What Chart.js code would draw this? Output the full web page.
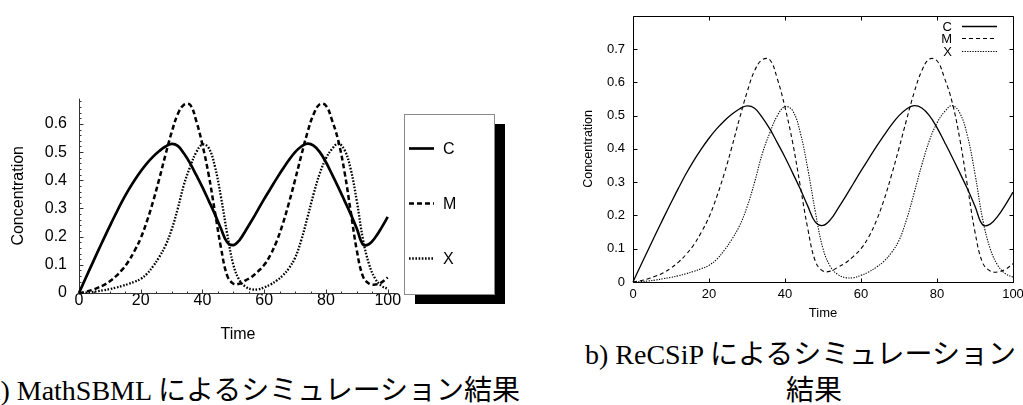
<!DOCTYPE html>
<html>
<head>
<meta charset="utf-8">
<script src="https://cdn.jsdelivr.net/npm/chart.js@4.4.1/dist/chart.umd.min.js"></script>
<style>
  html, body { margin: 0; padding: 0; background: #fff; width: 1023px; height: 405px; overflow: hidden; position: relative; }
  canvas { position: absolute; display: block; }
  #leftChart { left: 0; top: 77px; }
  #rightChart { left: 570px; top: 0; }
  .cap { position: absolute; font-family: "Liberation Serif", "Times New Roman", serif; font-size: 28px; line-height: 28px; color: #000; white-space: nowrap; }
  .cap .jp { font-family: "Noto Sans CJK JP", sans-serif; }
</style>
</head>
<body>
<canvas id="leftChart" width="520" height="273"></canvas>
<canvas id="rightChart" width="480" height="322"></canvas>
<div class="cap" style="left:-12px; top:374px;">a) MathSBML <span class="jp">によるシミュレーション結果</span></div>
<div class="cap" style="left:585px; top:338px;">b) ReCSiP <span class="jp">によるシミュレーション</span></div>
<div class="cap" style="left:786px; top:374px;"><span class="jp">結果</span></div>
<script>
// Simulated time course of the mitotic oscillator (cyclin C, cdc2 kinase M, protease X)
const times = [0, 2, 4, 6, 8, 10, 12, 14, 16, 18, 20, 22, 24, 26, 28, 30, 32, 34, 36, 38, 40,
  42, 44, 46, 48, 50, 52, 54, 56, 58, 60, 62, 64, 66, 68, 70, 72, 74, 76, 78, 80,
  82, 84, 86, 88, 90, 92, 94, 96, 98, 100];
const seriesC = [0.000, 0.049, 0.097, 0.145, 0.192, 0.238, 0.283, 0.326, 0.365, 0.400, 0.432,
  0.460, 0.484, 0.504, 0.520, 0.529, 0.522, 0.495, 0.460, 0.418, 0.375,
  0.328, 0.280, 0.228, 0.180, 0.170, 0.188, 0.222, 0.258, 0.296, 0.334,
  0.370, 0.406, 0.440, 0.472, 0.500, 0.520, 0.530, 0.523, 0.500, 0.464,
  0.420, 0.375, 0.328, 0.280, 0.228, 0.172, 0.174, 0.198, 0.232, 0.270];
const seriesM = [0.000, 0.004, 0.010, 0.018, 0.028, 0.042, 0.060, 0.083, 0.112, 0.150, 0.195,
  0.255, 0.325, 0.405, 0.490, 0.570, 0.635, 0.668, 0.668, 0.610, 0.525,
  0.420, 0.290, 0.160, 0.062, 0.033, 0.033, 0.045, 0.058, 0.077, 0.100,
  0.135, 0.183, 0.245, 0.320, 0.402, 0.488, 0.570, 0.635, 0.670, 0.665,
  0.612, 0.540, 0.430, 0.290, 0.150, 0.058, 0.033, 0.030, 0.038, 0.055];
const seriesX = [0.000, 0.001, 0.003, 0.006, 0.010, 0.014, 0.019, 0.025, 0.032, 0.040, 0.050,
  0.068, 0.095, 0.128, 0.168, 0.225, 0.300, 0.385, 0.448, 0.500, 0.527,
  0.515, 0.450, 0.340, 0.210, 0.100, 0.045, 0.022, 0.013, 0.013, 0.020,
  0.030, 0.044, 0.062, 0.088, 0.125, 0.188, 0.268, 0.352, 0.425, 0.478,
  0.512, 0.530, 0.508, 0.440, 0.325, 0.190, 0.100, 0.050, 0.025, 0.015];
const seriesNames = ['C', 'M', 'X'];
const xTickValues = [0, 20, 40, 60, 80, 100];
const yTickValuesA = [0, 0.1, 0.2, 0.3, 0.4, 0.5, 0.6];
const yTickValuesB = [0, 0.1, 0.2, 0.3, 0.4, 0.5, 0.6, 0.7];

const SANS = '"Liberation Sans", Arial, Helvetica, sans-serif';
const pts = arr => arr.map((v, i) => ({ x: times[i], y: v }));
const fmt = v => (v === 0 ? '0' : Number(v).toFixed(1));

function makeDatasets(widths, dashes) {
  return [seriesC, seriesM, seriesX].map((s, i) => ({
    label: seriesNames[i],
    data: pts(s),
    borderColor: '#000',
    borderWidth: widths[i],
    borderDash: dashes[i],
    pointRadius: 0,
    tension: 0.4,
    fill: false,
    clip: 6
  }));
}

// ---------- a) Mathematica-style axes ----------
const mathAxes = {
  id: 'mathAxes',
  beforeDatasetsDraw(chart) {
    const { ctx, chartArea: a, scales: { x, y } } = chart;
    const x0 = Math.round(x.getPixelForValue(0)) + 0.5;
    const y0 = Math.round(y.getPixelForValue(0)) + 0.5;
    ctx.save();
    ctx.strokeStyle = '#333';
    ctx.lineWidth = 1;
    ctx.beginPath();
    ctx.moveTo(x0, a.top); ctx.lineTo(x0, y0);
    ctx.moveTo(x0, y0); ctx.lineTo(a.right, y0);
    // x ticks: major every 20, minor every 5
    for (let k = 0; k * 5 <= x.max; k++) {
      const px = Math.round(x.getPixelForValue(k * 5)) + 0.5;
      const len = k % 4 === 0 ? 4 : 2;
      ctx.moveTo(px, y0); ctx.lineTo(px, y0 - len);
    }
    // y ticks: major every 0.1, minor every 0.02
    for (let k = 0; k * 0.02 <= y.max + 1e-9; k++) {
      const py = Math.round(y.getPixelForValue(k * 0.02)) + 0.5;
      const len = k % 5 === 0 ? 4 : 2;
      ctx.moveTo(x0, py); ctx.lineTo(x0 + len, py);
    }
    ctx.stroke();
    ctx.restore();
  }
};

// Boxed legend with a drop shadow, to the right of plot a)
const boxLegend = {
  id: 'boxLegend',
  afterDraw(chart) {
    const { ctx } = chart;
    const bx = 404, by = 37, bw = 90, bh = 180;
    ctx.save();
    ctx.fillStyle = '#000';
    ctx.fillRect(bx + 11, by + 10, bw, bh);
    ctx.fillStyle = '#fff';
    ctx.fillRect(bx, by, bw, bh);
    ctx.strokeStyle = '#8a8a8a';
    ctx.lineWidth = 1;
    ctx.strokeRect(bx + 0.5, by + 0.5, bw, bh);
    const rows = [71, 126, 181];
    chart.data.datasets.forEach((ds, i) => {
      const yy = rows[i] + 0.5;
      ctx.strokeStyle = '#000';
      ctx.lineWidth = ds.borderWidth;
      ctx.setLineDash(ds.borderDash || []);
      ctx.beginPath();
      ctx.moveTo(bx + 5, yy); ctx.lineTo(bx + 30, yy);
      ctx.stroke();
      ctx.setLineDash([]);
      ctx.fillStyle = '#000';
      ctx.font = '16px ' + SANS;
      ctx.textBaseline = 'middle';
      ctx.textAlign = 'left';
      ctx.fillText(ds.label, bx + 39, yy + 1);
    });
    ctx.restore();
  }
};

new Chart(document.getElementById('leftChart'), {
  type: 'line',
  data: { datasets: makeDatasets([2.7, 2.5, 2.3], [[], [5, 3], [1.6, 1.6]]) },
  options: {
    responsive: false,
    animation: false,
    devicePixelRatio: 1,
    layout: { padding: { left: 0, top: 20, right: 123, bottom: 0 } },
    plugins: { legend: { display: false }, tooltip: { enabled: false } },
    scales: {
      x: {
        type: 'linear', min: 0, max: 103,
        border: { display: false },
        grid: { display: false, drawTicks: false },
        ticks: { stepSize: 20, includeBounds: false, padding: -2, color: '#000', maxRotation: 0, autoSkip: false,
                 font: { family: SANS, size: 16 },
                 callback: v => (xTickValues.includes(v) ? String(v) : '') },
        title: { display: true, text: 'Time', color: '#000', font: { family: SANS, size: 16 }, padding: { top: 0, bottom: 6 } },
        afterFit(s) { s.height = 57; }
      },
      y: {
        type: 'linear', min: 0, max: 0.69,
        border: { display: false },
        grid: { display: false, drawTicks: false },
        ticks: { stepSize: 0.1, includeBounds: false, padding: 12, color: '#000', autoSkip: false,
                 font: { family: SANS, size: 16 },
                 callback: v => (yTickValuesA.some(t => Math.abs(t - v) < 1e-9) ? fmt(v) : '') },
        title: { display: true, text: 'Concentration', color: '#000', font: { family: SANS, size: 16 }, padding: { top: 9, bottom: 0 } },
        afterFit(s) { s.width = 79; }
      }
    }
  },
  plugins: [mathAxes, boxLegend]
});

// ---------- b) gnuplot-style framed plot ----------
const frameTicks = {
  id: 'frameTicks',
  beforeDatasetsDraw(chart) {
    const { ctx, chartArea: a, scales: { x, y } } = chart;
    const L = Math.round(a.left) + 0.5, R = Math.round(a.right) + 0.5;
    const T = Math.round(a.top) + 0.5, B = Math.round(a.bottom) + 0.5;
    ctx.save();
    ctx.strokeStyle = '#000';
    ctx.lineWidth = 1;
    ctx.beginPath();
    ctx.rect(L, T, R - L, B - T);
    xTickValues.forEach(v => {
      const px = Math.round(x.getPixelForValue(v)) + 0.5;
      ctx.moveTo(px, B); ctx.lineTo(px, B - 4);
      ctx.moveTo(px, T); ctx.lineTo(px, T + 4);
    });
    yTickValuesB.forEach(v => {
      const py = Math.round(y.getPixelForValue(v)) + 0.5;
      ctx.moveTo(L, py); ctx.lineTo(L + 4, py);
      ctx.moveTo(R, py); ctx.lineTo(R - 4, py);
    });
    ctx.stroke();
    ctx.restore();
  }
};

// Key in the top-right corner: label, then a line sample
const cornerKey = {
  id: 'cornerKey',
  afterDraw(chart) {
    const { ctx } = chart;
    const rows = [25.5, 38, 50.5];
    ctx.save();
    chart.data.datasets.forEach((ds, i) => {
      const yy = Math.round(rows[i]) + 0.5;
      ctx.fillStyle = '#000';
      ctx.font = '13px ' + SANS;
      ctx.textBaseline = 'middle';
      ctx.textAlign = 'right';
      ctx.fillText(ds.label, 382, yy + 0.5);
      ctx.strokeStyle = '#000';
      ctx.lineWidth = ds.borderWidth;
      ctx.setLineDash(ds.borderDash || []);
      ctx.beginPath();
      ctx.moveTo(392, yy); ctx.lineTo(427, yy);
      ctx.stroke();
      ctx.setLineDash([]);
    });
    ctx.restore();
  }
};

new Chart(document.getElementById('rightChart'), {
  type: 'line',
  data: { datasets: makeDatasets([1.3, 1.1, 1.1], [[], [4, 3], [1.3, 1.3]]) },
  options: {
    responsive: false,
    animation: false,
    devicePixelRatio: 1,
    layout: { padding: { left: 0, top: 15, right: 37, bottom: 0 } },
    plugins: { legend: { display: false }, tooltip: { enabled: false } },
    scales: {
      x: {
        type: 'linear', min: 0, max: 100,
        border: { display: false },
        grid: { display: false, drawTicks: false },
        ticks: { stepSize: 20, padding: 5, color: '#000', maxRotation: 0, autoSkip: false,
                 font: { family: SANS, size: 13 } },
        title: { display: true, text: 'Time', color: '#000', font: { family: SANS, size: 13 }, padding: { top: 0, bottom: 1 } },
        afterFit(s) { s.height = 40; }
      },
      y: {
        type: 'linear', min: 0, max: 0.8,
        border: { display: false },
        grid: { display: false, drawTicks: false },
        ticks: { stepSize: 0.1, padding: 8, color: '#000', autoSkip: false,
                 font: { family: SANS, size: 13 },
                 callback: v => (yTickValuesB.some(t => Math.abs(t - v) < 1e-9) ? fmt(v) : '') },
        title: { display: true, text: 'Concentration', color: '#000', font: { family: SANS, size: 12.5 }, padding: { top: 11, bottom: 0 } },
        afterFit(s) { s.width = 63; }
      }
    }
  },
  plugins: [frameTicks, cornerKey]
});
</script>
</body>
</html>
